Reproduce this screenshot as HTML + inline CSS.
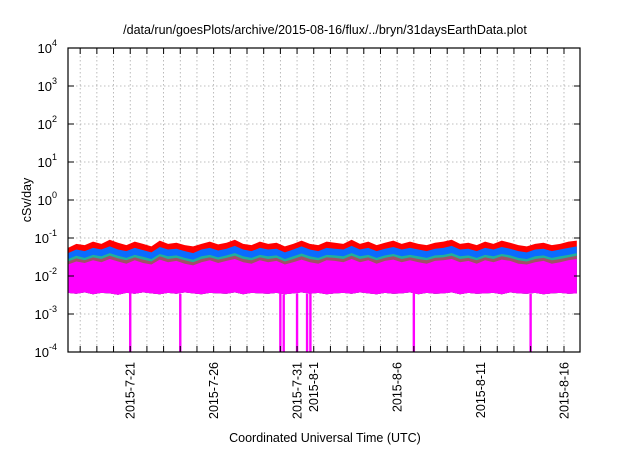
<!DOCTYPE html>
<html><head><meta charset="utf-8"><style>
body{margin:0;background:#fff;}
svg text{font-family:"Liberation Sans",sans-serif;fill:#000;}
</style></head><body>
<svg id="chart" width="640" height="448" xmlns="http://www.w3.org/2000/svg">
<text x="325" y="34" font-size="12.5" text-anchor="middle">/data/run/goesPlots/archive/2015-08-16/flux/../bryn/31daysEarthData.plot</text>
<text transform="translate(31,200) rotate(-90)" font-size="12.5" text-anchor="middle">cSv/day</text>
<text x="325" y="442" font-size="12.5" text-anchor="middle">Coordinated Universal Time (UTC)</text>
<g id="grid"></g>
<g id="series"></g>
<g id="axes"></g>
</svg>
<script>
// days counted from 2015-07-01 (=0)
const dayDomain=[16.27,46.96];
const yDecades=[-4,-3,-2,-1,0,1,2,3,4];
const xTickDays=[20,25,30,31,36,41,46];
const xTickLabels=["2015-7-21","2015-7-26","2015-7-31","2015-8-1","2015-8-6","2015-8-11","2015-8-16"];
const sampleStart=16.27, sampleStep=0.5;
const redTop=[0.055,0.07,0.065,0.08,0.07,0.09,0.075,0.065,0.08,0.07,0.06,0.085,0.07,0.075,0.065,0.06,0.07,0.08,0.068,0.075,0.09,0.07,0.065,0.08,0.07,0.075,0.06,0.07,0.085,0.07,0.065,0.08,0.075,0.07,0.09,0.07,0.08,0.065,0.075,0.085,0.07,0.08,0.07,0.065,0.075,0.08,0.09,0.07,0.075,0.065,0.08,0.07,0.085,0.075,0.065,0.06,0.07,0.075,0.065,0.07,0.08,0.085];
const blueTop=[0.04,0.05,0.045,0.055,0.05,0.06,0.05,0.045,0.055,0.048,0.042,0.058,0.05,0.052,0.045,0.04,0.05,0.055,0.047,0.052,0.062,0.05,0.045,0.055,0.05,0.052,0.042,0.05,0.06,0.05,0.045,0.055,0.052,0.05,0.062,0.05,0.055,0.045,0.052,0.058,0.05,0.055,0.05,0.045,0.052,0.055,0.062,0.05,0.052,0.045,0.055,0.05,0.058,0.052,0.045,0.042,0.05,0.052,0.045,0.05,0.055,0.06];
const tealTop=[0.028,0.034,0.03,0.036,0.033,0.04,0.034,0.03,0.036,0.032,0.028,0.038,0.033,0.035,0.03,0.027,0.033,0.036,0.031,0.035,0.04,0.033,0.03,0.036,0.033,0.035,0.028,0.033,0.039,0.033,0.03,0.036,0.035,0.033,0.04,0.033,0.036,0.03,0.035,0.038,0.033,0.036,0.033,0.03,0.035,0.036,0.04,0.033,0.035,0.03,0.036,0.033,0.038,0.035,0.03,0.028,0.033,0.035,0.03,0.033,0.036,0.04];
const brownTop=[0.024,0.029,0.026,0.031,0.028,0.034,0.029,0.026,0.031,0.027,0.024,0.033,0.028,0.03,0.026,0.023,0.028,0.031,0.027,0.03,0.034,0.028,0.026,0.031,0.028,0.03,0.024,0.028,0.033,0.028,0.026,0.031,0.03,0.028,0.034,0.028,0.031,0.026,0.03,0.033,0.028,0.031,0.028,0.026,0.03,0.031,0.034,0.028,0.03,0.026,0.031,0.028,0.033,0.03,0.026,0.024,0.028,0.03,0.026,0.028,0.031,0.034];
const magentaTop=[0.02,0.024,0.022,0.026,0.023,0.028,0.024,0.021,0.026,0.022,0.02,0.027,0.023,0.025,0.021,0.019,0.023,0.026,0.022,0.025,0.028,0.023,0.021,0.026,0.023,0.025,0.02,0.023,0.027,0.023,0.021,0.026,0.025,0.023,0.028,0.023,0.026,0.021,0.025,0.027,0.023,0.026,0.023,0.021,0.025,0.026,0.028,0.023,0.025,0.021,0.026,0.023,0.027,0.025,0.021,0.02,0.023,0.025,0.021,0.023,0.026,0.028];
const magentaBottom=[0.0036,0.0034,0.0037,0.0033,0.0036,0.0035,0.0032,0.0036,0.0034,0.0037,0.0035,0.0033,0.0036,0.0034,0.0037,0.0035,0.0033,0.0036,0.0035,0.0034,0.0037,0.0033,0.0036,0.0035,0.0034,0.0036,0.0033,0.0035,0.0037,0.0034,0.0036,0.0033,0.0035,0.0036,0.0034,0.0037,0.0035,0.0033,0.0036,0.0034,0.0035,0.0037,0.0033,0.0036,0.0034,0.0035,0.0037,0.0033,0.0036,0.0034,0.0035,0.0036,0.0033,0.0037,0.0035,0.0034,0.0036,0.0033,0.0035,0.0036,0.0034,0.0035];
const dropoutDays=[20.0,23.0,29.0,29.2,30.0,30.6,30.8,37.0,44.0];
const dropoutValue=0.0001;

const L=68,R=580,T=48,B=352,NS="http://www.w3.org/2000/svg";
const xs=d=>L+(d-dayDomain[0])/(dayDomain[1]-dayDomain[0])*(R-L);
const ys=v=>B-(Math.log10(v)+4)/8*(B-T);
function mk(tag,attrs,parent){const e=document.createElementNS(NS,tag);for(const k in attrs)e.setAttribute(k,attrs[k]);parent.appendChild(e);return e;}
const grid=document.getElementById('grid'),ser=document.getElementById('series'),ax=document.getElementById('axes');
for(let d=Math.ceil(dayDomain[0]);d<=dayDomain[1];d++){const x=xs(d);
 const g=mk('line',{x1:x,x2:x,y1:T,y2:B,stroke:'#aaa','stroke-width':0.8,'stroke-dasharray':'1.5,2.5'},grid);
 
 const t1=mk('line',{x1:x,x2:x,y1:B,y2:B-6,stroke:'#000'},ax);
 const t2=mk('line',{x1:x,x2:x,y1:T,y2:T+6,stroke:'#000'},ax);}
yDecades.forEach(p=>{const y=ys(Math.pow(10,p));
 if(p>-4&&p<4){const g=mk('line',{x1:L,x2:R,y1:y,y2:y,stroke:'#aaa','stroke-width':0.8,'stroke-dasharray':'1.5,2.5'},grid);}
 const t=mk('text',{x:57,y:y+5,'font-size':13,'text-anchor':'end'},ax);
 t.textContent='10';const s=mk('tspan',{dy:-7,'font-size':9},t);s.textContent=String(p);
 const k1=mk('line',{x1:L,x2:L+6,y1:y,y2:y,stroke:'#000'},ax);
 const k2=mk('line',{x1:R,x2:R-6,y1:y,y2:y,stroke:'#000'},ax);});
function area(top,color,name){let pts=[];top.forEach((v,i)=>{const x=xs(Math.min(sampleStart+i*sampleStep,dayDomain[1]));pts.push(x+','+ys(v));});
 for(let i=magentaBottom.length-1;i>=0;i--)pts.push(xs(Math.min(sampleStart+i*sampleStep,dayDomain[1]))+','+ys(magentaBottom[i]));
 const p=mk('polygon',{points:pts.join(' '),fill:color},ser);}
area(redTop,'#ff0000','series-red');
area(blueTop,'#0a6cff','series-blue');
area(tealTop,'#20b09a','series-teal');
area(brownTop,'#a05068','series-brown');
area(magentaTop,'#ff00ff','series-magenta');
dropoutDays.forEach(d=>{const i=Math.max(0,Math.min(magentaBottom.length-1,Math.round((d-sampleStart)/sampleStep)));
 const y0=ys(magentaBottom[i]);
 const r=mk('rect',{x:xs(d)-1.2,y:y0,width:2.4,height:ys(dropoutValue)-y0,fill:'#ff00ff'},ser);
 });
const f=mk('rect',{x:L,y:T,width:R-L,height:B-T,fill:'none',stroke:'#000','stroke-width':1.2},ax);
xTickDays.forEach((d,i)=>{const x=xs(d);const t=mk('text',{transform:`translate(${x+4.5},${B+10}) rotate(-90)`,'font-size':12.5,'text-anchor':'end'},ax);
 t.textContent=xTickLabels[i];});
</script>
</body></html>
